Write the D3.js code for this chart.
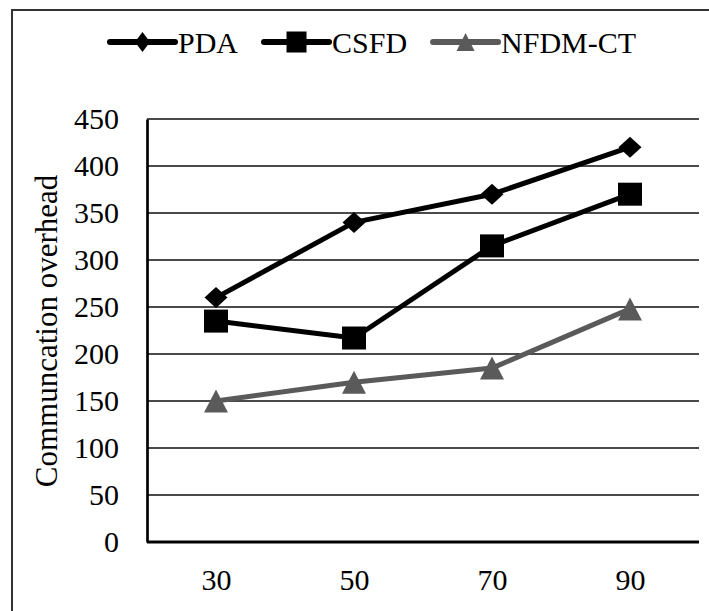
<!DOCTYPE html>
<html>
<head>
<meta charset="utf-8">
<script src="https://cdn.jsdelivr.net/npm/d3@7"></script>
<style>
  html, body { margin: 0; padding: 0; background: #fff; }
  svg { display: block; font-family: "Liberation Serif", "Times New Roman", serif; }
</style>
</head>
<body>
<svg id="chart" width="709" height="611"></svg>
<script>
// ---- data ----
const categories = ["30", "50", "70", "90"];
const pdaValues = [260, 340, 370, 420];
const csfdValues = [235, 217, 315, 370];
const nfdmValues = [150, 170, 185, 248];
const yTicks = [0, 50, 100, 150, 200, 250, 300, 350, 400, 450];
const seriesNames = ["PDA", "CSFD", "NFDM-CT"];
const yTitle = "Communcation overhead";

// custom marker shapes (w = width, h = height)
const diamond = (w, h) => ({ draw(ctx) { ctx.moveTo(0, -h / 2); ctx.lineTo(w / 2, 0); ctx.lineTo(0, h / 2); ctx.lineTo(-w / 2, 0); ctx.closePath(); } });
const rectSym = (w, h) => ({ draw(ctx) { ctx.rect(-w / 2, -h / 2, w, h); } });
const tri = (w, h) => ({ draw(ctx) { ctx.moveTo(0, -h / 2); ctx.lineTo(w / 2, h / 2); ctx.lineTo(-w / 2, h / 2); ctx.closePath(); } });

const series = [
  { name: seriesNames[0], values: pdaValues, color: "#000", sym: diamond(23, 21), legSym: diamond(15, 20) },
  { name: seriesNames[1], values: csfdValues, color: "#000", sym: rectSym(24, 23), legSym: rectSym(20, 21) },
  { name: seriesNames[2], values: nfdmValues, color: "#5a5a5a", sym: tri(24, 23), legSym: tri(18, 18) }
];

const svg = d3.select("#chart");
const W = 709, H = 611;
const margin = { left: 147, right: 10, top: 119, bottom: 69 };
const plotW = W - margin.left - margin.right;
const plotH = H - margin.top - margin.bottom;

// outer border (only top and left visible in the reference crop)
svg.append("rect").attr("x", 12).attr("y", 10).attr("width", 720).attr("height", 640)
  .attr("fill", "none").attr("stroke", "#333").attr("stroke-width", 2);

const x = d3.scalePoint().domain(categories).range([margin.left, margin.left + plotW]).padding(0.5);
const y = d3.scaleLinear().domain([0, 450]).range([margin.top + plotH, margin.top]);

// gridlines
svg.append("g").selectAll("line").data(yTicks.filter(d => d > 0)).join("line")
  .attr("x1", margin.left).attr("x2", margin.left + plotW)
  .attr("y1", d => y(d)).attr("y2", d => y(d))
  .attr("stroke", "#4a4a4a").attr("stroke-width", 2);

// y axis
const yAxis = svg.append("g").attr("transform", `translate(${margin.left},0)`)
  .call(d3.axisLeft(y).tickValues(yTicks).tickSize(0).tickPadding(28));
yAxis.select(".domain").attr("stroke", "#000").attr("stroke-width", 2.7);
yAxis.selectAll("text").attr("font-size", 30).attr("fill", "#000")
  .attr("font-family", "'Liberation Serif', 'Times New Roman', serif");

// x axis
const xAxis = svg.append("g").attr("transform", `translate(0,${y(0)})`)
  .call(d3.axisBottom(x).tickSize(0).tickPadding(27));
xAxis.select(".domain").attr("stroke", "#000").attr("stroke-width", 3)
  .attr("d", `M${margin.left},0H${margin.left + plotW}`);
xAxis.selectAll("text").attr("font-size", 30).attr("fill", "#000")
  .attr("font-family", "'Liberation Serif', 'Times New Roman', serif");

// y title
svg.append("text")
  .attr("transform", `translate(57,${331}) rotate(-90)`)
  .attr("text-anchor", "middle")
  .attr("font-size", 31).attr("fill", "#000")
  .text(yTitle);

// lines
const line = d3.line().x((d, i) => x(categories[i])).y(d => y(d));

series.forEach(s => {
  svg.append("path").datum(s.values)
    .attr("d", line).attr("fill", "none")
    .attr("stroke", s.color).attr("stroke-width", 5).attr("stroke-linejoin", "round");
});
series.forEach(s => {
  svg.append("g").selectAll("path").data(s.values).join("path")
    .attr("transform", (d, i) => `translate(${x(categories[i])},${y(d)})`)
    .attr("d", d3.symbol().type(s.sym))
    .attr("fill", s.color);
});

// legend
const legend = svg.append("g");
let lx = 110;
const ly = 42;
series.forEach(s => {
  const g = legend.append("g");
  g.append("line").attr("x1", lx).attr("x2", lx + 65).attr("y1", ly).attr("y2", ly)
    .attr("stroke", s.color).attr("stroke-width", 6).attr("stroke-linecap", "round");
  g.append("path").attr("transform", `translate(${lx + 32.5},${ly})`)
    .attr("d", d3.symbol().type(s.legSym)).attr("fill", s.color);
  const t = g.append("text").attr("x", lx + 68).attr("y", 53)
    .attr("font-size", 30).attr("fill", "#000").text(s.name);
  const tw = t.node().getComputedTextLength();
  lx = lx + 68 + tw + 26;
});
</script>
</body>
</html>
